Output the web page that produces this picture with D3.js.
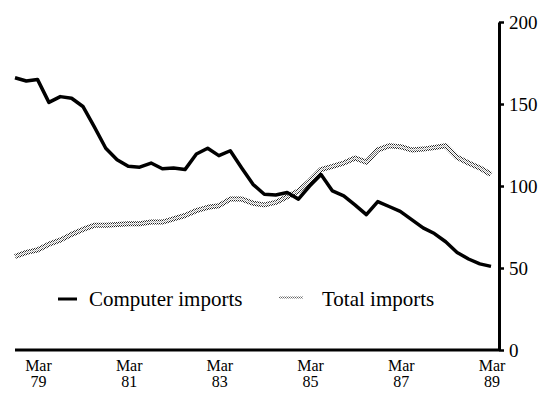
<!DOCTYPE html>
<html>
<head>
<meta charset="utf-8">
<script src="https://cdn.jsdelivr.net/npm/d3@7"></script>
<style>
  body { margin: 0; background: #fff; }
  text { font-family: "Liberation Serif", "Times New Roman", serif; fill: #000; }
</style>
</head>
<body>
<div id="chart"></div>
<script>
// quarterly index values, Sep 78 .. Mar 89
var computerImports = [166, 164, 165, 151, 154.5, 153.5, 148.5, 136, 123, 116, 112, 111.5,
  114, 110.5, 111, 110, 119.5, 123, 118.5, 121.5, 111, 101, 95, 94.5, 96, 92, 100, 107,
  97, 94, 88.5, 82.5, 90.5, 87.5, 84.5, 79.5, 74.5, 71, 66, 59.5, 55.5, 52.5, 51];
var totalImports = [57, 59.5, 61, 64.5, 67, 70.5, 73.5, 76, 76, 76.5, 77, 77,
  78, 78, 80, 82, 85, 87, 88, 92, 92, 89.5, 88.5, 90, 93.5, 97, 103, 110,
  112, 114, 117, 114.5, 122, 124.5, 124, 122, 122.5, 123.5, 124.5, 117.5, 114, 111, 107];
var tickYears = ["79", "81", "83", "85", "87", "89"];
var yTicks = [0, 50, 100, 150, 200];
var seriesNames = ["Computer imports", "Total imports"];

var width = 545, height = 400;

var svg = d3.select("#chart")
  .append("svg")
    .attr("width", width)
    .attr("height", height);

var quarters = d3.timeMonth.range(new Date(1978, 8, 1), new Date(1989, 3, 1), 3);

var x = d3.scaleTime()
  .domain([quarters[0], quarters[quarters.length - 1]])
  .range([15, 491]);

var y = d3.scaleLinear()
  .domain([0, 200])
  .range([350, 22]);

var axisX = 499;

// halftone look for total imports
var pat = svg.append("defs").append("pattern")
  .attr("id", "dots")
  .attr("width", 2).attr("height", 2)
  .attr("patternUnits", "userSpaceOnUse");
pat.append("rect").attr("width", 1).attr("height", 1).attr("fill", "#222");
pat.append("rect").attr("x", 1).attr("y", 1).attr("width", 1).attr("height", 1).attr("fill", "#222");

// right axis
var yAxis = svg.append("g")
  .attr("transform", "translate(" + axisX + ",0)")
  .call(d3.axisRight(y).tickValues(yTicks).tickSize(5).tickSizeOuter(0).tickPadding(5));
yAxis.select(".domain").attr("stroke-width", 3);
yAxis.selectAll(".tick line").attr("stroke-width", 2.5);
yAxis.selectAll(".tick text").style("font-size", "19px");

// bottom axis line
var xAxis = svg.append("g")
  .attr("transform", "translate(0," + y(0) + ")")
  .call(d3.axisBottom(x).tickValues([]).tickSizeOuter(0));
xAxis.select(".domain")
  .attr("d", "M" + x.range()[0] + ",0H" + axisX)
  .attr("stroke-width", 3);

// x labels
var marDates = tickYears.map(function(yy) { return new Date(1900 + (+yy), 2, 1); });
var lab = svg.append("g").selectAll("text")
  .data(marDates)
  .enter().append("text")
  .attr("text-anchor", "middle")
  .style("font-size", "16px");
lab.append("tspan")
  .attr("x", function(d) { return x(d) + 1; })
  .attr("y", 371)
  .text("Mar");
lab.append("tspan")
  .attr("x", function(d) { return x(d) + 1; })
  .attr("y", 387)
  .text(function(d, i) { return tickYears[i]; });

var line = d3.line()
  .x(function(d, i) { return x(quarters[i]); })
  .y(function(d) { return y(d); });

svg.append("path")
  .datum(totalImports)
  .attr("fill", "none")
  .attr("stroke", "url(#dots)")
  .attr("stroke-width", 5)
  .attr("stroke-linejoin", "round")
  .attr("d", line);
svg.append("path")
  .datum(totalImports)
  .attr("fill", "none")
  .attr("stroke", "#fff")
  .attr("stroke-opacity", 0.7)
  .attr("stroke-width", 1.6)
  .attr("stroke-linejoin", "round")
  .attr("d", line);

svg.append("path")
  .datum(computerImports)
  .attr("fill", "none")
  .attr("stroke", "#000")
  .attr("stroke-width", 3.5)
  .attr("stroke-linejoin", "round")
  .attr("d", line);

// legend
svg.append("line")
  .attr("x1", 58).attr("x2", 77).attr("y1", 299).attr("y2", 299)
  .attr("stroke", "#000").attr("stroke-width", 3);
svg.append("text")
  .attr("x", 89).attr("y", 306)
  .style("font-size", "21px")
  .text(seriesNames[0]);
svg.append("line")
  .attr("x1", 279).attr("x2", 303).attr("y1", 297.5).attr("y2", 297.5)
  .attr("stroke", "url(#dots)").attr("stroke-width", 2)
  .attr("stroke-opacity", 0.7);
svg.append("text")
  .attr("x", 322).attr("y", 306)
  .style("font-size", "21px")
  .text(seriesNames[1]);
</script>
</body>
</html>
